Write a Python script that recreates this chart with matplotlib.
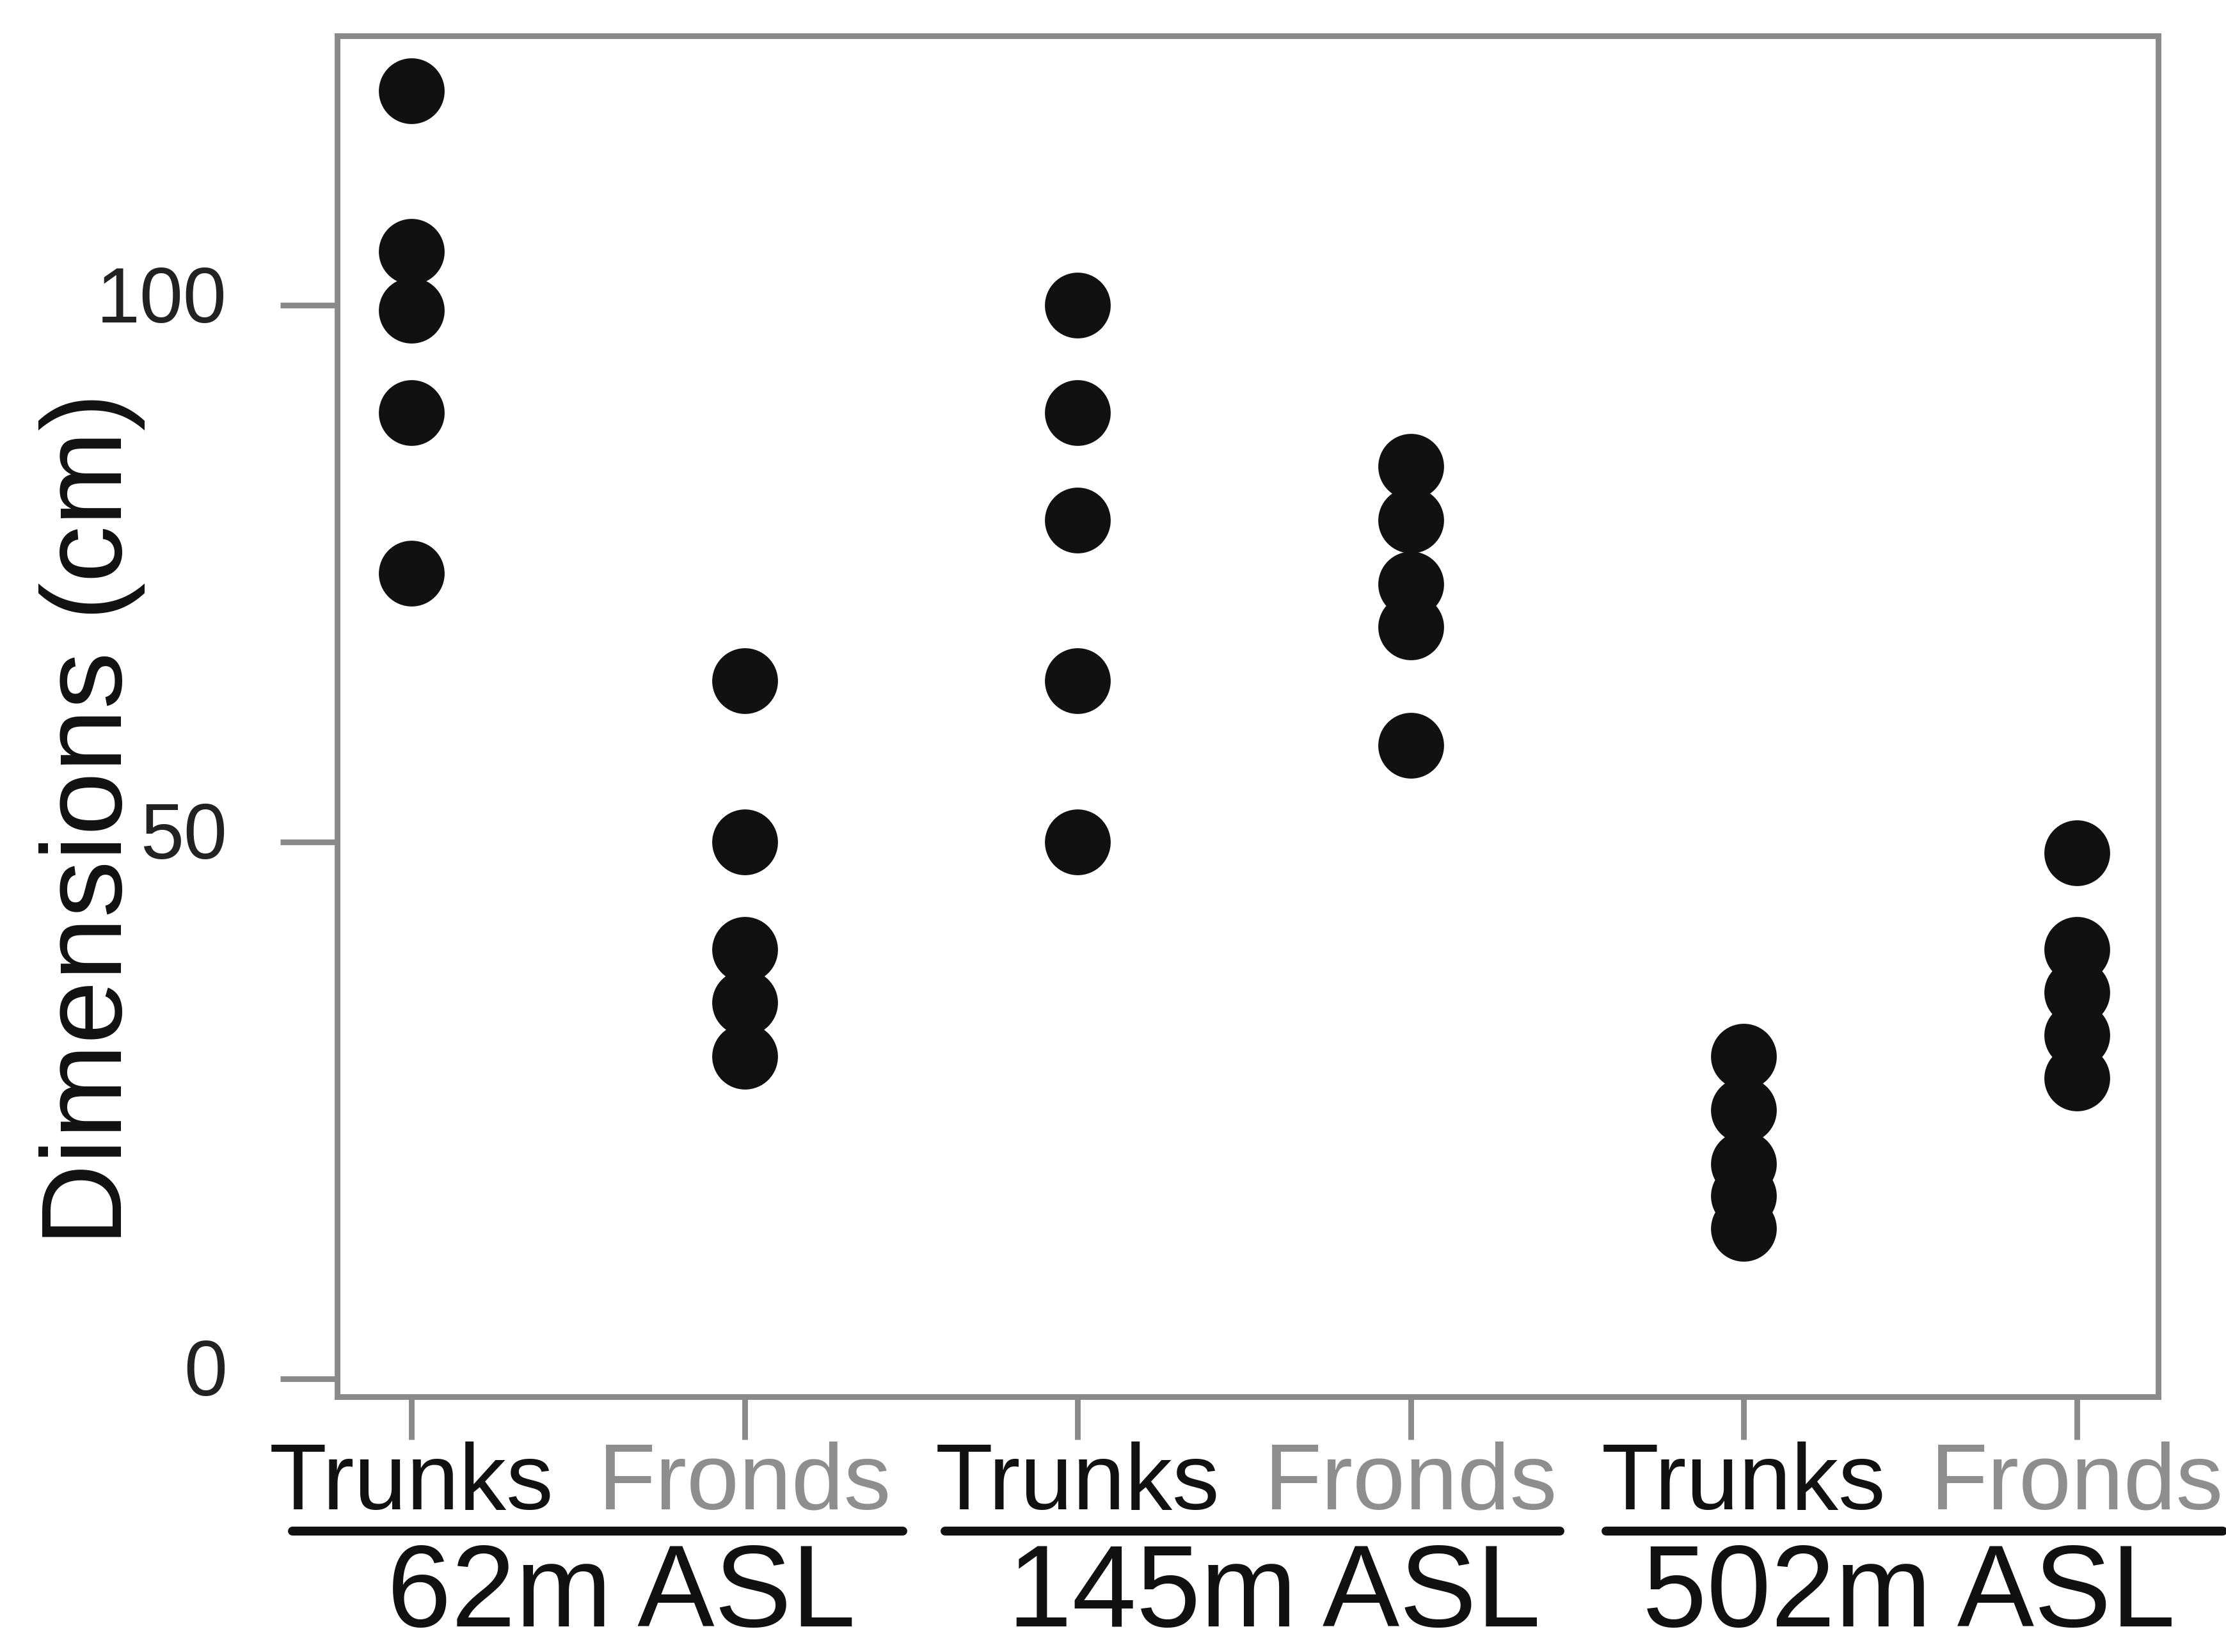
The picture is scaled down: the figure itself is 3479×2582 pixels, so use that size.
import matplotlib
matplotlib.use('Agg')
import matplotlib.pyplot as plt
from matplotlib import transforms
import numpy as np

plt.rcParams['font.family'] = ['Liberation Sans', 'DejaVu Sans']

# values (cm)
categories = ['Trunks', 'Fronds', 'Trunks', 'Fronds', 'Trunks', 'Fronds']
cat_colors = ['#111111', '#8e8e8e', '#111111', '#8e8e8e', '#111111', '#8e8e8e']
trunks_62 = [120, 105, 99.5, 90, 75]
fronds_62 = [65, 50, 40, 35, 30]
trunks_145 = [100, 90, 80, 65, 50]
fronds_145 = [85, 80, 74, 70, 59]
trunks_502 = [30, 25, 20, 17, 14]
fronds_502 = [49, 40, 36, 32, 28]
series = [trunks_62, fronds_62, trunks_145, fronds_145, trunks_502, fronds_502]

groups = ['62m ASL', '145m ASL', '502m ASL']
yticks = [0, 50, 100]

# layout of the group captions / underlines (x in category units)
group_label_x = [1.63, 3.59, 5.495]
underline_span = [(0.643, 2.475), (2.602, 4.448), (4.586, 6.438)]

fig = plt.figure(figsize=(3479 / 200, 2582 / 200), dpi=200)
ax = fig.add_axes([0.1515, 0.1545, 0.818, 0.8238])

for i, vals in enumerate(series):
    ax.plot([i + 1] * len(vals), vals, 'o', color='#111111', markersize=37,
            markeredgewidth=0, linestyle='none')

ax.set_xlim(0.777, 6.244)
ax.set_ylim(-1.7, 125.1)

for sp in ax.spines.values():
    sp.set_color('#8a8a8a')
    sp.set_linewidth(3.2)

ax.set_yticks(yticks)
ax.set_yticklabels([str(t) for t in yticks], fontsize=44, color='#222222')
ax.tick_params(axis='y', length=32, width=3.2, color='#8a8a8a', pad=30)
offset = transforms.ScaledTranslation(0, 18 / 200, fig.dpi_scale_trans)
for lab in ax.get_yticklabels():
    lab.set_transform(lab.get_transform() + offset)

ax.set_xticks(np.arange(1, len(categories) + 1))
ax.set_xticklabels(categories, fontsize=53)
for lab, c in zip(ax.get_xticklabels(), cat_colors):
    lab.set_color(c)
ax.tick_params(axis='x', length=24, width=3.2, color='#8a8a8a', pad=1)

fig.text(144 / 3479, 1 - 1280 / 2582, 'Dimensions (cm)', rotation=90,
         fontsize=64, ha='center', va='center', color='#111111')

blend = transforms.blended_transform_factory(ax.transData, fig.transFigure)
for (x0, x1), gx, g in zip(underline_span, group_label_x, groups):
    ax.plot([x0, x1], [1 - 2393 / 2582] * 2, color='#111111', linewidth=5,
            solid_capstyle='round', transform=blend, clip_on=False)
    ax.text(gx, 1 - 2542 / 2582, g, transform=blend, fontsize=65,
            ha='center', va='baseline', color='#111111')

fig.savefig('out.png', dpi=200, facecolor='white')
